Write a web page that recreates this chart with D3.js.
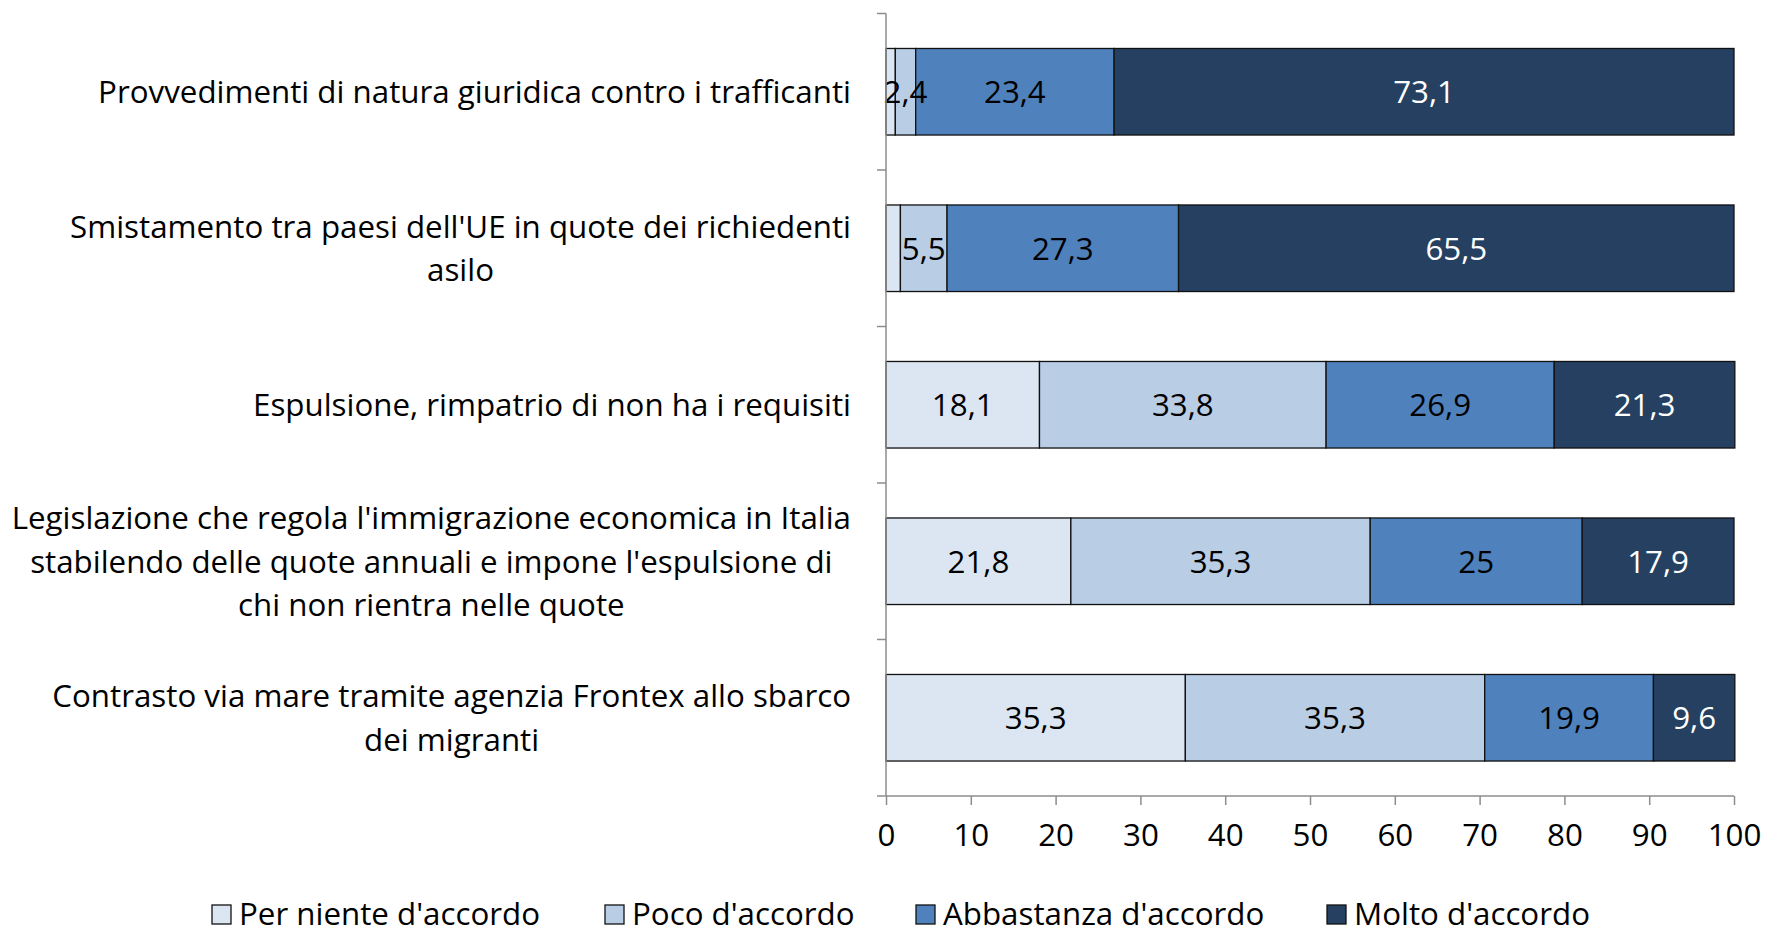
<!DOCTYPE html>
<html>
<head>
<meta charset="utf-8">
<script src="https://cdn.jsdelivr.net/npm/d3@7"></script>
<style>
  body { margin: 0; background: #fff; }
  text { font-family: "Open Sans", "Noto Sans", sans-serif; fill: #000; }
</style>
</head>
<body>
<div id="chart"></div>
<script>
var width = 1767, height = 934;

// categories, one entry per row (lines as shown in the label)
var categories = [
  ["Provvedimenti di natura giuridica contro i trafficanti"],
  ["Smistamento tra paesi dell'UE in quote dei richiedenti", "asilo"],
  ["Espulsione, rimpatrio di non ha i requisiti"],
  ["Legislazione che regola l'immigrazione economica in Italia", "stabilendo delle quote annuali e impone l'espulsione di", "chi non rientra nelle quote"],
  ["Contrasto via mare tramite agenzia Frontex allo sbarco", "dei migranti"]
];
var series = ["Per niente d'accordo", "Poco d'accordo", "Abbastanza d'accordo", "Molto d'accordo"];
var perNiente  = [1.1, 1.7, 18.1, 21.8, 35.3];
var poco       = [2.4, 5.5, 33.8, 35.3, 35.3];
var abbastanza = [23.4, 27.3, 26.9, 25, 19.9];
var molto      = [73.1, 65.5, 21.3, 17.9, 9.6];
var xTicks = [0, 10, 20, 30, 40, 50, 60, 70, 80, 90, 100];

var colors = ["#dce6f2", "#b9cde5", "#4f81bd", "#254061"];
var labelColors = ["#000", "#000", "#000", "#fff"];
var fontSize = "31.3px";

var svg = d3.select("#chart").append("svg").attr("width", width).attr("height", height);

var x = d3.scaleLinear().domain([0, 100]).range([886, 1734]);
var y = d3.scaleBand().domain(d3.range(categories.length)).range([13.5, 796])
    .paddingInner(0.447).paddingOuter(0.2235);

var rows = categories.map(function(c, i) {
  return {perNiente: perNiente[i], poco: poco[i], abbastanza: abbastanza[i], molto: molto[i], i: i};
});
var keys = ["perNiente", "poco", "abbastanza", "molto"];
var stacked = d3.stack().keys(keys)(rows);

/* bars */
var layer = svg.selectAll(".layer").data(stacked).enter().append("g")
    .attr("class", "layer")
    .attr("fill", function(d, k) { return colors[k]; });

layer.selectAll("rect").data(function(d) { return d; }).enter().append("rect")
    .attr("x", function(d) { return x(d[0]); })
    .attr("y", function(d) { return y(d.data.i); })
    .attr("width", function(d) { return x(d[1]) - x(d[0]); })
    .attr("height", y.bandwidth())
    .attr("stroke", "#111")
    .attr("stroke-width", 1.3);

/* data labels, drawn on top of all bars */
var labels = svg.append("g");
stacked.forEach(function(s, k) {
  labels.append("g").selectAll("text").data(s.filter(function(d) { return d[1] - d[0] >= 2; }))
    .enter().append("text")
    .attr("x", function(d) { return (x(d[0]) + x(d[1])) / 2; })
    .attr("y", function(d) { return y(d.data.i) + y.bandwidth() / 2; })
    .attr("dy", "0.36em")
    .attr("text-anchor", "middle")
    .style("font-size", fontSize)
    .style("fill", labelColors[k])
    .text(function(d) { return String(+(d[1] - d[0]).toFixed(1)).replace(".", ","); });
});

/* axes */
var axisColor = "#8c8c8c";
var xAxis = svg.append("g").attr("transform", "translate(0,796)")
    .call(d3.axisBottom(x).tickValues(xTicks).tickSize(9).tickPadding(19).tickFormat(d3.format("d")));
xAxis.select(".domain").attr("stroke", axisColor).attr("stroke-width", 1.5).attr("d", "M886,0H1734");
xAxis.selectAll(".tick line").attr("stroke", axisColor).attr("stroke-width", 1.5);
xAxis.selectAll(".tick text").style("font-size", fontSize).style("font-family", "'Open Sans', sans-serif").attr("fill", "#000");

var yl = svg.append("g");
yl.append("line").attr("x1", 886).attr("x2", 886).attr("y1", 13.5).attr("y2", 796)
    .attr("stroke", axisColor).attr("stroke-width", 1.5);
yl.selectAll(".yt").data(d3.range(categories.length + 1)).enter().append("line")
    .attr("x1", 877).attr("x2", 886)
    .attr("y1", function(i) { return 13.5 + i * y.step(); })
    .attr("y2", function(i) { return 13.5 + i * y.step(); })
    .attr("stroke", axisColor).attr("stroke-width", 1.5);

/* category labels: block right aligned, lines centred within block */
var lineH = 43.5;
categories.forEach(function(lines, i) {
  var g = svg.append("g");
  var cy = y(i) + y.bandwidth() / 2;
  var texts = lines.map(function(l, j) {
    return g.append("text")
      .attr("y", cy + (j - (lines.length - 1) / 2) * lineH)
      .attr("dy", "0.36em")
      .attr("text-anchor", "middle")
      .style("font-size", fontSize)
      .text(l);
  });
  var maxW = d3.max(texts, function(t) { return t.node().getComputedTextLength(); });
  texts.forEach(function(t) { t.attr("x", 851 - maxW / 2); });
});

/* legend */
var legendX = [212, 605, 916, 1327];
var leg = svg.selectAll(".leg").data(series).enter().append("g")
    .attr("transform", function(d, k) { return "translate(" + legendX[k] + ",914)"; });
leg.append("rect").attr("x", 0).attr("y", -9).attr("width", 19).attr("height", 19)
    .attr("fill", function(d, k) { return colors[k]; })
    .attr("stroke", "#111").attr("stroke-width", 1.3);
leg.append("text").attr("x", 27).attr("dy", "0.36em").style("font-size", fontSize)
    .text(function(d) { return d; });
</script>
</body>
</html>
